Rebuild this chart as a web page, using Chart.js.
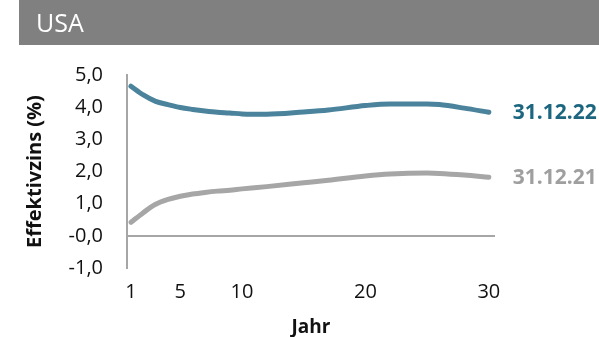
<!DOCTYPE html>
<html>
<head>
<meta charset="utf-8">
<script src="https://cdn.jsdelivr.net/npm/chart.js@4/dist/chart.umd.min.js"></script>
<style>
  html, body { margin: 0; padding: 0; background: #ffffff; }
  #wrap { position: relative; width: 599px; height: 337px; }
</style>
</head>
<body>
<div id="wrap"><canvas id="c" width="599" height="337"></canvas></div>
<script>
// Maturities (years) and yields (%) for the two curve dates
const years = [1, 2, 3, 4, 5, 6, 7, 8, 9, 10, 12, 15, 17, 20, 22, 25, 26, 28, 30];
const yield2022 = [4.65, 4.38, 4.18, 4.08, 3.99, 3.93, 3.88, 3.84, 3.82, 3.79, 3.78, 3.85, 3.91, 4.05, 4.10, 4.10, 4.08, 3.97, 3.84];
const yield2021 = [0.42, 0.72, 0.98, 1.13, 1.23, 1.30, 1.35, 1.39, 1.42, 1.46, 1.53, 1.65, 1.73, 1.86, 1.92, 1.95, 1.94, 1.89, 1.82];
const seriesNames = ['31.12.22', '31.12.21'];
const xTickValues = [1, 5, 10, 20, 30];
const yTickValues = [-1, 0, 1, 2, 3, 4, 5];
const yTickLabels = ['-1,0', '-0,0', '1,0', '2,0', '3,0', '4,0', '5,0'];
const panelTitle = 'USA';

const FONT = "'Open Sans', 'Noto Sans', sans-serif";
const BLUE = '#4a839b';
const BLUE_TEXT = '#1d6680';
const GREY = '#a6a6a6';
const GREY_TEXT = '#9f9f9f';

// Grey banner with the panel title
const headerPlugin = {
  id: 'header',
  beforeDraw(chart) {
    const ctx = chart.ctx;
    ctx.save();
    ctx.fillStyle = '#808080';
    ctx.fillRect(19, 0, chart.width - 19, 45);
    ctx.fillStyle = '#ffffff';
    ctx.font = '400 25px ' + FONT;
    ctx.textBaseline = 'alphabetic';
    ctx.textAlign = 'left';
    ctx.fillText(panelTitle, 36, 32);
    ctx.restore();
  }
};

// Series names written next to the last point of each line
const endLabelPlugin = {
  id: 'endLabels',
  afterDatasetsDraw(chart) {
    const ctx = chart.ctx;
    ctx.save();
    chart.data.datasets.forEach((ds, i) => {
      const meta = chart.getDatasetMeta(i);
      const pt = meta.data[meta.data.length - 1];
      ctx.font = '700 21px ' + FONT;
      ctx.fillStyle = ds.labelColor;
      ctx.textAlign = 'left';
      ctx.textBaseline = 'middle';
      ctx.fillText(ds.label, pt.x + 24, pt.y + 1);
    });
    ctx.restore();
  }
};

new Chart(document.getElementById('c'), {
  type: 'line',
  data: {
    datasets: [
      {
        label: seriesNames[0],
        data: years.map((x, i) => ({ x, y: yield2022[i] })),
        borderColor: BLUE,
        labelColor: BLUE_TEXT,
        borderWidth: 5,
        pointRadius: 0,
        borderCapStyle: 'round',
        borderJoinStyle: 'round',
        cubicInterpolationMode: 'monotone'
      },
      {
        label: seriesNames[1],
        data: years.map((x, i) => ({ x, y: yield2021[i] })),
        borderColor: GREY,
        labelColor: GREY_TEXT,
        borderWidth: 5,
        pointRadius: 0,
        borderCapStyle: 'round',
        borderJoinStyle: 'round',
        cubicInterpolationMode: 'monotone'
      }
    ]
  },
  options: {
    responsive: false,
    animation: false,
    devicePixelRatio: 1,
    layout: { padding: { left: 0, right: 104, top: 75, bottom: 0 } },
    plugins: {
      legend: { display: false },
      tooltip: { enabled: false }
    },
    scales: {
      x: {
        type: 'linear',
        min: 0.68,
        max: 30.5,
        afterBuildTicks(scale) { scale.ticks = xTickValues.map(v => ({ value: v })); },
        afterFit(scale) { scale.height = 69; },
        grid: { display: false, drawTicks: false },
        border: { display: false },
        ticks: {
          padding: 12,
          color: '#111111',
          font: { family: FONT, size: 20 },
          maxRotation: 0,
          autoSkip: false,
          callback: v => String(v)
        },
        title: {
          display: true,
          text: 'Jahr',
          color: '#111111',
          font: { family: FONT, size: 19, weight: '700' },
          padding: { top: 0, bottom: -2 }
        }
      },
      y: {
        min: -1,
        max: 5,
        afterBuildTicks(scale) { scale.ticks = yTickValues.map(v => ({ value: v })); },
        afterFit(scale) { scale.width = 127; },
        grid: {
          drawTicks: false,
          lineWidth: 2,
          color: c => (c.tick && c.tick.value === 0) ? GREY : 'rgba(0,0,0,0)'
        },
        border: { display: true, color: GREY, width: 2 },
        ticks: {
          padding: 24,
          color: '#111111',
          font: { family: FONT, size: 20 },
          callback: (v) => yTickLabels[yTickValues.indexOf(v)]
        },
        title: {
          display: true,
          text: 'Effektivzins (%)',
          color: '#111111',
          font: { family: FONT, size: 20, weight: '700' },
          padding: { top: 23, bottom: 0 }
        }
      }
    }
  },
  plugins: [headerPlugin, endLabelPlugin]
});
</script>
</body>
</html>
